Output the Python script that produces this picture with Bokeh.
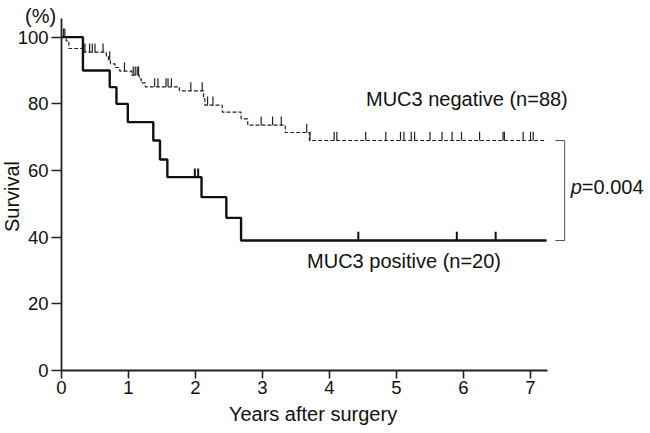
import numpy as np
from bokeh.plotting import figure
from bokeh.models import Range1d, Label, FixedTicker
from bokeh.embed import file_html
from bokeh.resources import INLINE

# ---- data ----
# MUC3 negative (n=88): event times (years) and survival (%) after each event
neg_event_t = [0.07, 0.11, 0.32, 0.67, 0.70, 0.73, 0.80, 0.87, 1.05, 1.16, 1.19, 1.25,
               1.76, 2.12, 2.14, 2.40, 2.68, 2.78, 3.34, 3.70]
neg_event_s = [98.9, 96.6, 95.5, 94.3, 93.2, 92.0, 90.9, 89.8, 88.6, 87.5, 86.3, 85.1,
               83.9, 81.5, 79.6, 77.5, 75.5, 73.6, 71.4, 69.0]
neg_censor_t = [0.03, 0.05, 0.33, 0.35, 0.42, 0.46, 0.50, 0.62, 0.72, 0.94, 1.07, 1.10,
                1.13, 1.15, 1.39, 1.44, 1.56, 1.59, 1.64, 1.93, 2.10, 2.18, 2.26, 2.98,
                3.15, 3.28, 3.66, 3.71, 4.07, 4.11, 4.54, 4.84, 5.06, 5.11, 5.22, 5.27,
                5.50, 5.68, 5.83, 5.97, 6.24, 6.59, 6.61, 6.89, 7.00, 7.04]
neg_end = 7.22

# MUC3 positive (n=20)
pos_event_t = [0.32, 0.72, 0.82, 0.99, 1.37, 1.47, 1.58, 2.09, 2.46, 2.68]
pos_event_s = [90.0, 85.0, 80.0, 74.5, 69.0, 63.3, 58.0, 52.0, 45.8, 39.0]
pos_censor_t = [1.99, 2.04, 4.43, 5.90, 6.48]
pos_end = 7.24

x_ticks = [0, 1, 2, 3, 4, 5, 6, 7]
y_ticks = [0, 20, 40, 60, 80, 100]

neg_label = "MUC3 negative (n=88)"
pos_label = "MUC3 positive (n=20)"
p_label_italic = "p"
p_label_rest = "=0.004"
x_title = "Years after surgery"
y_title = "Survival"
y_unit = "(%)"

FONT = "Liberation Sans"
TICK_H = 2.6  # censor tick height in % units


def step_xy(times, surv, end):
    xs = [0.0] + list(times) + [end]
    ys = [100.0] + list(surv) + [surv[-1]]
    return xs, ys


def surv_at(times, surv, t):
    idx = np.searchsorted(np.asarray(times), np.asarray(t), side="right")
    levels = np.concatenate([[100.0], np.asarray(surv)])
    return levels[idx]


W, H = 645, 430
PX_PER_YEAR = 67.0
PX_PER_PCT = 10.0 / 3.0
X0_PX, Y0_PX = 61.0, 370.0  # page position of the origin

p = figure(width=W, height=H, output_backend="svg", toolbar_location=None,
           x_range=Range1d(-X0_PX / PX_PER_YEAR, (W - X0_PX) / PX_PER_YEAR),
           y_range=Range1d(-(H - Y0_PX) / PX_PER_PCT, Y0_PX / PX_PER_PCT),
           min_border=0)
p.outline_line_color = None
p.grid.visible = False
p.background_fill_color = "white"
p.border_fill_color = "white"

# negative curve
nx, ny = step_xy(neg_event_t, neg_event_s, neg_end)
p.step(nx, ny, mode="after", line_color="#222222", line_width=1.2, line_dash="4 2")
nc_y = surv_at(neg_event_t, neg_event_s, neg_censor_t)
p.segment(x0=neg_censor_t, y0=nc_y, x1=neg_censor_t, y1=nc_y + TICK_H,
          line_color="#222222", line_width=1.2)

# positive curve
px_, py_ = step_xy(pos_event_t, pos_event_s, pos_end)
p.step(px_, py_, mode="after", line_color="#111111", line_width=2.4)
pc_y = surv_at(pos_event_t, pos_event_s, pos_censor_t)
p.segment(x0=pos_censor_t, y0=pc_y, x1=pos_censor_t, y1=pc_y + TICK_H,
          line_color="#111111", line_width=2.0)

# bracket for p value
bx0, bx1 = 7.37, 7.51
top, bot = neg_event_s[-1], pos_event_s[-1]
p.line([bx0, bx1, bx1, bx0], [top, top, bot, bot], line_color="#555555", line_width=1)

# axes, pinned to the data origin
for ax in (p.xaxis[0], p.yaxis[0]):
    ax.fixed_location = 0
    ax.axis_line_color = "#222222"
    ax.axis_line_width = 1.8
    ax.major_tick_line_color = "#222222"
    ax.major_tick_line_width = 1.6
    ax.minor_tick_line_color = None
    ax.major_tick_in = 0
    ax.major_label_text_font = FONT
    ax.major_label_text_font_size = "18.5px"
    ax.major_label_text_color = "#111111"

p.xaxis.ticker = FixedTicker(ticks=x_ticks)
p.xaxis.bounds = (0, 7.25)
p.xaxis.major_tick_out = 8
p.xaxis.major_label_standoff = 2

p.yaxis.ticker = FixedTicker(ticks=y_ticks)
p.yaxis.bounds = (0, 105.6)
p.yaxis.major_tick_out = 10
p.yaxis.major_label_standoff = 3


def add_label(text, x, y, align="left", baseline="middle", angle=0, size="20px",
              style="normal"):
    p.add_layout(Label(x=x, y=y, text=text, text_font=FONT, text_font_size=size,
                       text_align=align, text_baseline=baseline, angle=angle,
                       text_color="#111111", text_font_style=style))


add_label(neg_label, 4.545, 81.4)
add_label(pos_label, 3.665, 33.0)
add_label(p_label_italic, 7.60, 55.2, style="italic")
add_label(p_label_rest, 7.766, 55.2)
add_label(x_title, 3.754, -12.9, align="center")
add_label(y_title, -0.746, 52.2, align="center", angle=np.pi / 2)
add_label(y_unit, -0.313, 106.5, align="center")

open("out.html", "w").write(file_html(p, INLINE))
